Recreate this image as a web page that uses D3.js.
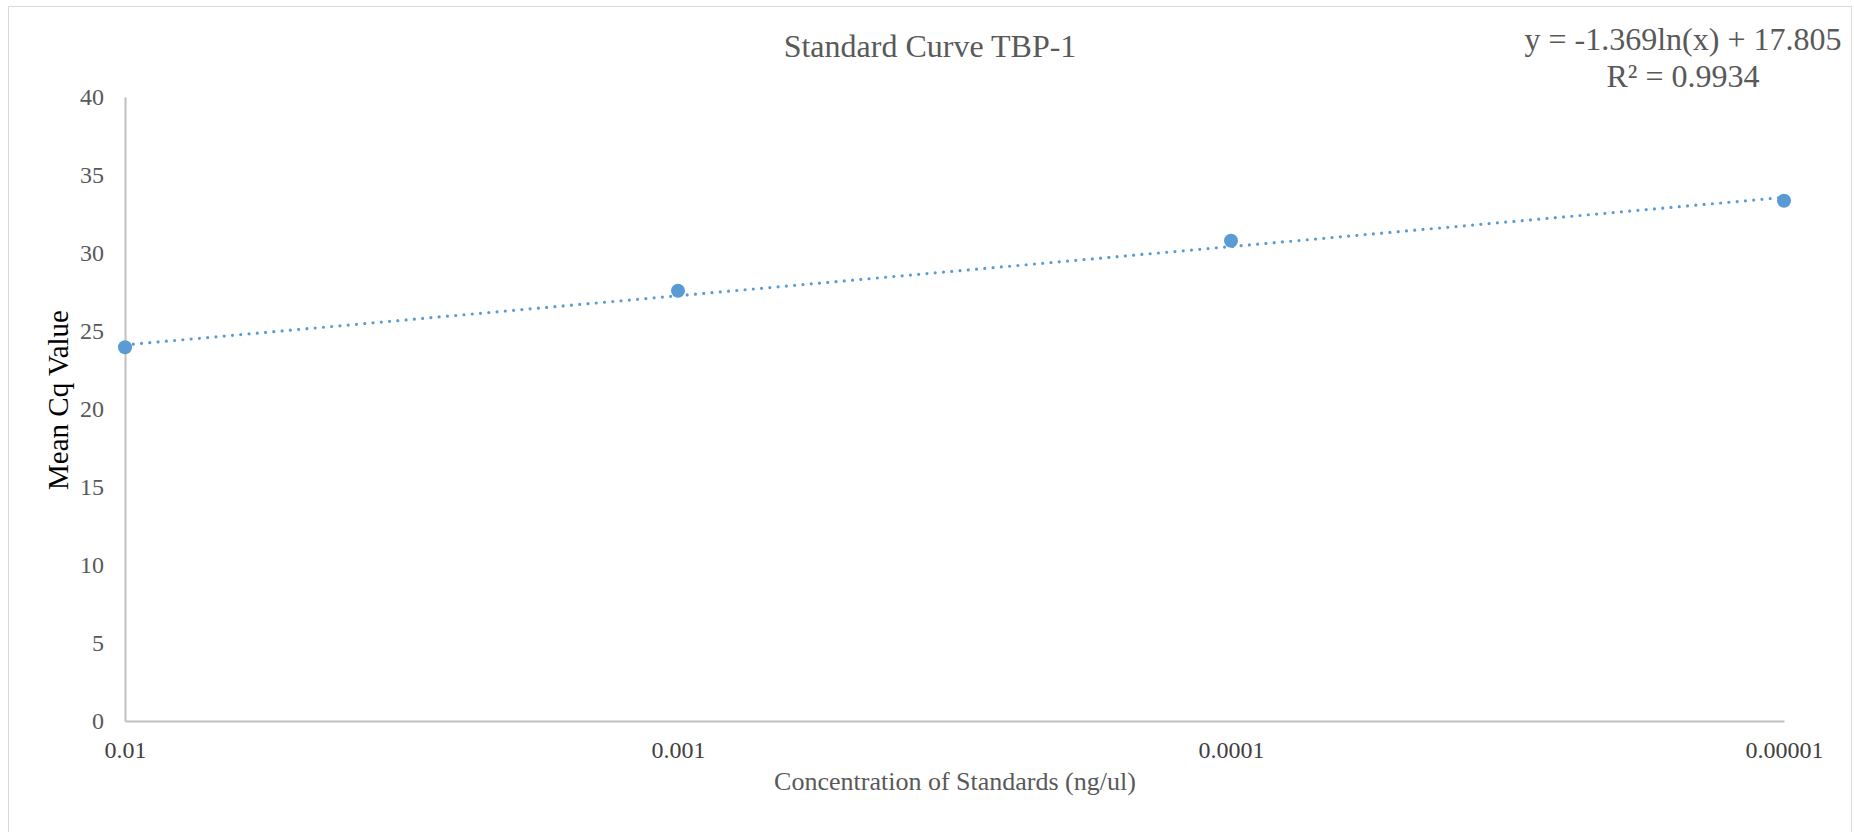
<!DOCTYPE html>
<html>
<head>
<meta charset="utf-8">
<script src="https://cdn.jsdelivr.net/npm/d3@7"></script>
</head>
<body style="margin:0; background:#fff">
<script>
// standards and their mean Cq
var concentrations = [0.01, 0.001, 0.0001, 0.00001];
var meanCq = [23.96, 27.58, 30.79, 33.35];
var xTicks = [0.01, 0.001, 0.0001, 0.00001];
var xTickLabels = ["0.01", "0.001", "0.0001", "0.00001"];
var yTicks = [0, 5, 10, 15, 20, 25, 30, 35, 40];
// log trendline shown on the chart
var trendSlope = -1.369,
    trendIntercept = 17.805,
    rSquared = 0.9934;

var width = 1854,
    height = 832;

var blue = "#5B9BD5",
    serif = "'Liberation Serif', 'Times New Roman', serif";

var svg = d3.select("body").append("svg")
    .attr("width", width)
    .attr("height", height);

// chart border
svg.append("rect")
    .attr("x", 8.5)
    .attr("y", 6.5)
    .attr("width", 1843)
    .attr("height", 840)
    .attr("fill", "#fff")
    .attr("stroke", "#d9d9d9");

var x = d3.scaleLog()
    .domain([0.01, 0.00001])
    .range([125, 1784]);

var y = d3.scaleLinear()
    .domain([0, 40])
    .range([721, 97]);

// y axis
var yAxis = svg.append("g")
    .attr("transform", "translate(125,0)")
    .call(d3.axisLeft(y).tickValues(yTicks).tickSize(0).tickPadding(21));
yAxis.select(".domain").attr("stroke", "#c0c0c0").attr("stroke-width", 2);
yAxis.selectAll("text")
    .attr("fill", "#595959")
    .style("font-size", "24px")
    .style("font-family", serif);

// x axis
var xAxis = svg.append("g")
    .attr("transform", "translate(0,721)")
    .call(d3.axisBottom(x).tickValues(xTicks)
      .tickFormat(function(d, i) { return xTickLabels[i]; })
      .tickSize(0).tickPadding(20));
xAxis.select(".domain").attr("stroke", "#c0c0c0").attr("stroke-width", 2);
xAxis.selectAll("text")
    .attr("fill", "#404040")
    .style("font-size", "24px")
    .style("font-family", serif);

// trendline
var trend = concentrations.map(function(c) {
  return [c, trendSlope * Math.log(c) + trendIntercept];
});
svg.append("path")
    .datum([trend[0], trend[trend.length - 1]])
    .attr("fill", "none")
    .attr("stroke", blue)
    .attr("stroke-width", 3.2)
    .attr("stroke-linecap", "round")
    .attr("stroke-dasharray", "0,8.3")
    .attr("d", d3.line()
      .x(function(d) { return x(d[0]); })
      .y(function(d) { return y(d[1]); }));

// points
svg.selectAll("circle.pt")
    .data(concentrations)
  .enter().append("circle")
    .attr("class", "pt")
    .attr("cx", function(d) { return x(d); })
    .attr("cy", function(d, i) { return y(meanCq[i]); })
    .attr("r", 7)
    .attr("fill", blue);

function label(tx, ty, size, fill, str) {
  return svg.append("text")
      .attr("x", tx)
      .attr("y", ty)
      .attr("text-anchor", "middle")
      .attr("fill", fill)
      .style("font-family", serif)
      .style("font-size", size + "px")
      .text(str);
}

// title
label(930, 57, 32, "#595959", "Standard Curve TBP-1");

// trendline label
label(1683, 50, 32, "#595959", "y = " + trendSlope + "ln(x) + " + trendIntercept);
label(1683, 87, 32, "#595959", "R² = " + rSquared);

// axis titles
label(955, 790, 26, "#595959", "Concentration of Standards (ng/ul)");
label(0, 0, 29, "#000", "Mean Cq Value")
    .attr("transform", "translate(68,400) rotate(-90)");
</script>
</body>
</html>
